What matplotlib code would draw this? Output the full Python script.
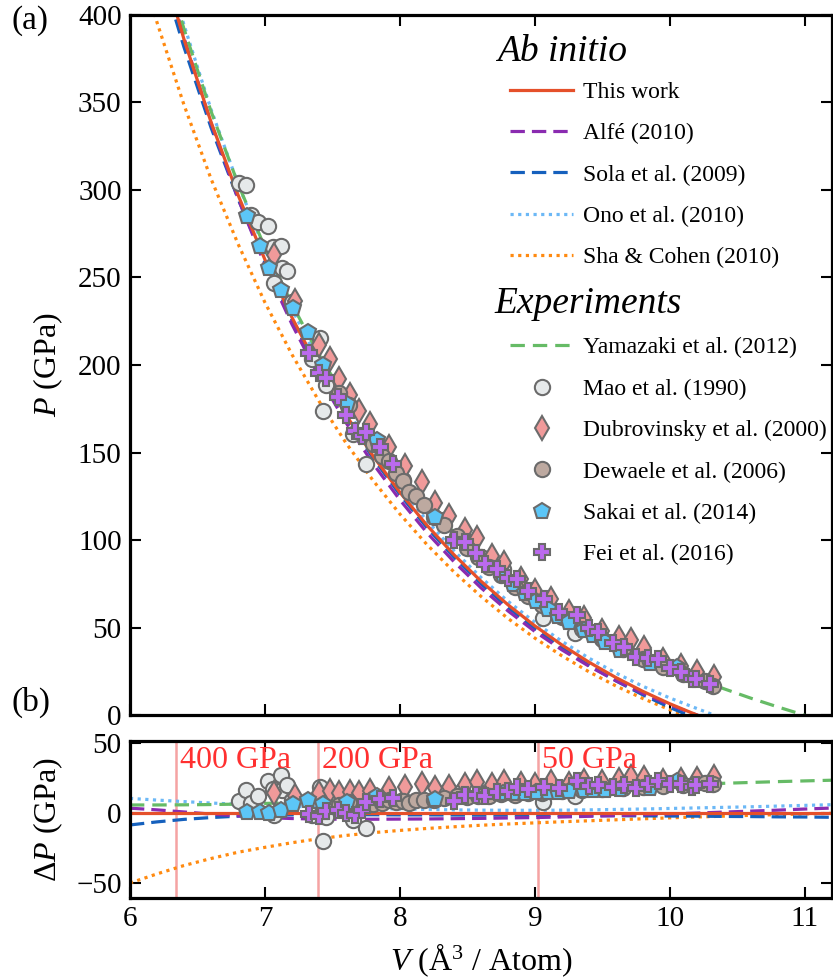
import numpy as np
import matplotlib
matplotlib.use('Agg')
import matplotlib.pyplot as plt

plt.rcParams['font.family'] = ['Liberation Serif', 'DejaVu Serif']
plt.rcParams['mathtext.fontset'] = 'custom'
plt.rcParams['mathtext.rm'] = 'Liberation Serif'
plt.rcParams['mathtext.it'] = 'Liberation Serif:italic'
plt.rcParams['mathtext.bf'] = 'Liberation Serif:bold'

# ---------------- data ----------------
V_grid = [6.0, 6.2, 6.4, 6.6, 6.8, 7.0, 7.2, 7.4, 7.6, 7.8, 8.0, 8.2, 8.4, 8.6,
          8.8, 9.0, 9.2, 9.4, 9.6, 9.8, 10.0, 10.2, 10.4, 10.6, 10.8, 11.0, 11.2]
P_this_work = [499.6, 439.4, 386.2, 339.0, 297.3, 260.2, 227.2, 197.7, 171.5, 148.1,
               127.2, 108.4, 91.6, 76.5, 63.0, 50.9, 40.0, 30.2, 21.4, 13.5, 6.4,
               0.0, -6.3, -12.3, -17.9, -23.2, -28.2]
dP_alfe = [3.5, 2.3, 0.8, -0.7, -2.0, -3.2, -3.9, -4.3, -4.4, -4.4, -4.3, -4.2, -4.0,
           -3.8, -3.5, -3.2, -2.8, -2.3, -1.8, -1.2, -0.6, 0.0, 0.7, 1.4, 2.1, 2.9, 3.6]
dP_sola = [-8.5, -6.3, -4.5, -3.2, -2.2, -1.6, -1.3, -1.2, -1.2, -1.2, -1.3, -1.3, -1.4,
           -1.5, -1.5, -1.6, -1.7, -1.8, -1.9, -2.0, -2.1, -2.2, -2.4, -2.5, -2.7, -2.8, -3.0]
dP_ono = [10.5, 9.3, 8.2, 7.2, 6.3, 5.5, 4.8, 4.2, 3.7, 3.3, 2.9, 2.6, 2.3, 2.1, 2.0,
          2.0, 2.1, 2.3, 2.6, 2.9, 3.3, 3.7, 4.1, 4.5, 5.0, 5.5, 6.0]
dP_sha = [-50.0, -43.5, -37.5, -32.5, -28.0, -24.5, -21.2, -18.3, -16.0, -14.0, -12.4,
          -11.0, -9.8, -8.7, -7.8, -7.0, -6.2, -5.5, -4.8, -4.1, -3.4, -2.8, -2.2,
          -1.6, -1.1, -0.6, -0.2]
dP_yamazaki = [5.8, 5.8, 5.9, 6.1, 6.4, 6.9, 7.5, 8.2, 9.0, 9.9, 10.8, 11.8, 12.8, 13.8,
               14.8, 15.8, 16.7, 17.6, 18.5, 19.3, 20.0, 20.7, 21.3, 21.9, 22.5, 23.0, 23.5]

V_mao = [6.81, 6.86, 6.90, 6.95, 7.02, 7.06, 7.07, 7.12, 7.13, 7.16, 7.20, 7.35, 7.41,
         7.43, 7.45, 7.65, 7.75, 8.02, 8.33, 8.46, 8.60, 8.76, 9.06, 9.30]
P_mao = [303.9, 302.9, 285.8, 281.5, 279.5, 267.3, 247.1, 267.9, 255.2, 253.8, 236.2,
         203.6, 215.4, 173.8, 188.7, 160.7, 143.5, 134.3, 111.5, 102.6, 90.5, 83.7,
         55.7, 47.1]
dP_mao = [8.5, 16.7, 7.0, 12.0, 22.6, 17.0, -1.5, 27.5, 16.5, 20.0, 9.0, -1.5, 19.0,
          -20.0, -2.5, -5.0, -10.5, 9.0, 14.0, 15.5, 14.0, 18.0, 8.0, 12.0]

V_dub = [7.07, 7.22, 7.40, 7.48, 7.55, 7.63, 7.70, 7.78, 7.92, 8.04, 8.16, 8.26, 8.36,
         8.48, 8.57, 8.68, 8.77, 8.90, 9.00, 9.12, 9.25, 9.36, 9.50, 9.62, 9.71, 9.81,
         9.95, 10.08, 10.20, 10.33]
P_dub = [262.6, 236.3, 211.7, 203.2, 192.1, 183.0, 173.8, 166.4, 153.1, 142.4, 133.2,
         121.4, 114.0, 105.6, 101.3, 91.1, 87.0, 78.0, 70.9, 66.4, 58.6, 55.2, 47.8,
         44.1, 43.1, 38.2, 31.2, 27.8, 24.5, 21.9]
dP_dub = [14.0, 12.0, 14.0, 16.0, 14.0, 15.0, 14.0, 16.0, 17.5, 19.0, 21.0, 18.0, 19.0,
          20.0, 22.5, 20.0, 22.0, 21.0, 20.0, 22.0, 21.0, 23.0, 22.0, 23.5, 26.0, 25.0,
          23.0, 24.0, 24.5, 26.0]

V_dew = [7.55, 7.62, 7.80, 7.87, 7.92, 7.97, 8.02, 8.07, 8.12, 8.18, 8.25, 8.33, 8.42,
         8.50, 8.58, 8.66, 8.75, 8.85, 8.95, 9.05, 9.20, 9.35, 9.50, 9.65, 9.80, 9.95,
         10.10, 10.26, 10.32]
P_dew = [184.1, 177.2, 154.6, 147.8, 145.1, 138.4, 133.8, 127.6, 124.9, 119.8, 113.2,
         108.5, 102.1, 95.6, 90.5, 84.5, 79.9, 73.0, 68.0, 62.7, 56.0, 49.2, 43.3,
         37.5, 32.0, 27.7, 23.2, 19.5, 16.7]
dP_dew = [6.0, 8.0, 6.5, 7.0, 9.5, 8.0, 8.5, 7.0, 9.0, 9.5, 9.0, 11.0, 12.0, 11.5,
          12.5, 12.0, 13.5, 13.0, 14.0, 14.5, 16.0, 16.5, 17.5, 18.0, 18.5, 19.5,
          20.0, 21.4, 20.5]

V_sak = [6.87, 6.96, 7.03, 7.12, 7.21, 7.32, 7.43, 7.61, 7.83, 8.26, 8.76, 8.84, 8.93,
         9.01, 9.10, 9.17, 9.25, 9.36, 9.43, 9.52, 9.63, 9.85, 10.05]
P_sak = [285.3, 268.1, 255.3, 242.8, 232.4, 219.0, 200.2, 177.9, 157.4, 113.4, 80.0,
         75.1, 69.8, 65.2, 60.4, 56.6, 53.1, 48.4, 45.6, 41.7, 37.3, 29.7, 27.4]
dP_sak = [1.0, 0.5, 0.0, 2.4, 6.7, 9.5, 6.4, 7.6, 12.4, 10.0, 14.3, 14.5, 14.6, 14.8,
          14.9, 15.0, 15.5, 16.2, 16.7, 16.8, 17.1, 17.9, 22.6]

V_fei = [7.33, 7.40, 7.45, 7.54, 7.60, 7.67, 7.72, 7.75, 7.85, 7.95, 8.40, 8.48, 8.56,
         8.63, 8.72, 8.80, 8.87, 8.95, 9.07, 9.18, 9.31, 9.40, 9.47, 9.58, 9.66, 9.75,
         9.84, 9.91, 10.00, 10.08, 10.16, 10.19, 10.30]
P_fei = [207.1, 195.7, 192.4, 181.8, 171.5, 162.1, 159.5, 162.0, 152.9, 143.5, 99.9,
         98.6, 92.6, 86.4, 83.4, 78.5, 77.8, 71.0, 66.1, 59.1, 57.2, 49.7, 47.3, 41.3,
         39.1, 33.4, 32.6, 32.2, 26.9, 24.8, 20.3, 20.5, 17.8]
dP_fei = [-1.0, -2.0, 1.2, 2.4, 0.0, -1.2, 2.0, 8.0, 10.0, 11.0, 8.3, 13.0, 13.1, 11.9,
          15.0, 15.5, 19.0, 17.0, 19.0, 18.0, 22.6, 19.5, 20.2, 19.0, 20.0, 17.9, 20.5,
          22.6, 20.5, 21.0, 19.0, 20.2, 21.0]

marker_pressures = ['400 GPa', '200 GPa', '50 GPa']
marker_volumes = [6.34, 7.395, 9.02]

# ---------------- figure ----------------
fig = plt.figure(figsize=(8.33, 9.8), dpi=100)
ax1 = fig.add_axes([0.156, 0.2704, 0.8427, 0.7143])
ax2 = fig.add_axes([0.156, 0.0837, 0.8427, 0.1597])

Vg = np.array(V_grid)
Pref = np.array(P_this_work)

LW = 2.3
curves = [
    ('Sha & Cohen (2010)', dP_sha, '#ff8a10', (0, (1, 1.4))),
    ('Ono et al. (2010)', dP_ono, '#6cb8f6', (0, (1, 1.4))),
    ('Sola et al. (2009)', dP_sola, '#1560bd', (0, (4.5, 2.2))),
    ('Alfé (2010)', dP_alfe, '#8a2bb0', (0, (4.5, 2.2))),
    ('Yamazaki et al. (2012)', dP_yamazaki, '#66bb66', (0, (4.5, 2.5))),
]
handles = {}
for label, dP, color, ls in curves:
    h, = ax1.plot(Vg, Pref + np.array(dP), color=color, lw=LW, ls=ls, label=label, zorder=2)
    ax2.plot(Vg, dP, color=color, lw=LW, ls=ls, zorder=2)
    handles[label] = h
h_red, = ax1.plot(Vg, Pref, color='#e5502a', lw=LW, label='This work', zorder=2.5)
ax2.plot(Vg, np.zeros_like(Vg), color='#e5502a', lw=LW, zorder=2.5)
handles['This work'] = h_red

edge = '#6b6b6b'
datasets = [
    ('Mao et al. (1990)', V_mao, P_mao, dP_mao, 'o', '#e6e9ea', 11),
    ('Dubrovinsky et al. (2000)', V_dub, P_dub, dP_dub, 'd', '#f09a9a', 12.5),
    ('Dewaele et al. (2006)', V_dew, P_dew, dP_dew, 'o', '#bda9a0', 11),
    ('Sakai et al. (2014)', V_sak, P_sak, dP_sak, 'p', '#5cc6f7', 12),
    ('Fei et al. (2016)', V_fei, P_fei, dP_fei, 'P', '#bb6aee', 11),
]
for label, V, P, dP, m, fc, ms in datasets:
    h, = ax1.plot(V, P, ls='none', marker=m, ms=ms, mfc=fc, mec=edge, mew=1.5,
                  label=label, zorder=3)
    ax2.plot(V, dP, ls='none', marker=m, ms=ms, mfc=fc, mec=edge, mew=1.5, zorder=3)
    handles[label] = h

# vertical pressure markers
for txt, v in zip(marker_pressures, marker_volumes):
    ax2.axvline(v, color='#f5a3a3', lw=1.8, zorder=1)
    ax2.text(v + 0.03, 37.5, txt, color='#ff3030', fontsize=23, ha='left', va='center',
             zorder=4)

# axes formatting
for ax in (ax1, ax2):
    ax.set_xlim(6, 11.2)
    ax.set_xticks([6, 7, 8, 9, 10, 11])
    ax.tick_params(direction='in', top=True, right=True, length=8, width=1.5,
                   labelsize=21, pad=6)
    for s in ax.spines.values():
        s.set_linewidth(2.3)

ax1.set_ylim(0, 400)
ax1.set_yticks(np.arange(0, 401, 50))
ax1.tick_params(labelbottom=False)
ax1.set_ylabel('$P$ (GPa)', fontsize=23)
ax1.yaxis.set_label_coords(-0.093, 0.5)

ax2.set_ylim(-60.7, 51.2)
ax2.set_yticks([-50, 0, 50])
ax2.set_yticklabels(['\u221250', '0', '50'])
ax2.set_ylabel('$\\Delta P$ (GPa)', fontsize=23)
ax2.yaxis.set_label_coords(-0.093, 0.5)
ax2.set_xlabel('$V$ (Å$^3$ / Atom)', fontsize=23)
ax2.xaxis.set_label_coords(0.5, -0.275)

# legends
leg_kw = dict(loc='upper left', frameon=False, fontsize=17, handlelength=2.7,
              handletextpad=0.4, labelspacing=0.84, borderpad=0, borderaxespad=0,
              numpoints=1)
leg1 = ax1.legend(handles=[handles[k] for k in ['This work', 'Alfé (2010)',
                                               'Sola et al. (2009)', 'Ono et al. (2010)',
                                               'Sha & Cohen (2010)']],
                  bbox_to_anchor=(0.541, 0.905), **leg_kw)
ax1.add_artist(leg1)
leg2 = ax1.legend(handles=[handles[k] for k in ['Yamazaki et al. (2012)', 'Mao et al. (1990)',
                                               'Dubrovinsky et al. (2000)',
                                               'Dewaele et al. (2006)', 'Sakai et al. (2014)',
                                               'Fei et al. (2016)']],
                  bbox_to_anchor=(0.541, 0.540), **leg_kw)
ax1.text(0.523, 0.948, 'Ab initio', style='italic', fontsize=27, ha='left', va='center',
         transform=ax1.transAxes)
ax1.text(0.519, 0.588, 'Experiments', style='italic', fontsize=27, ha='left', va='center',
         transform=ax1.transAxes)

fig.text(0.014, 0.979, '(a)', fontsize=24, ha='left', va='center')
fig.text(0.014, 0.283, '(b)', fontsize=24, ha='left', va='center')

fig.savefig('out.png', dpi=100)
